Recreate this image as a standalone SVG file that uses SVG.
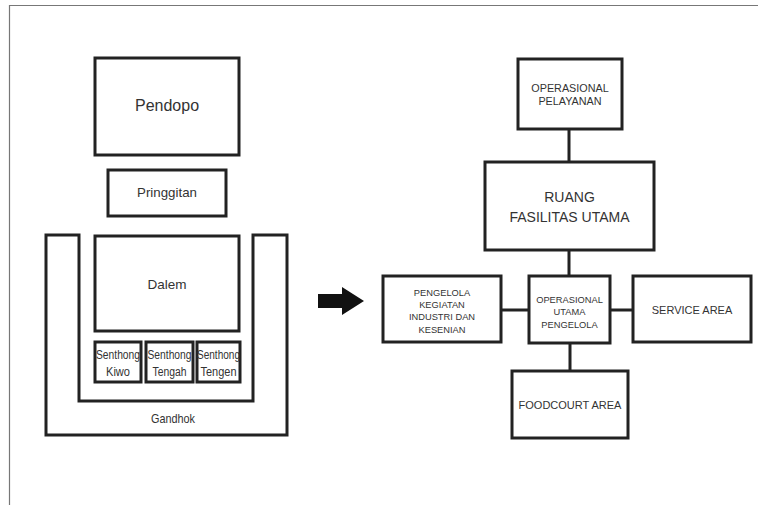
<svg xmlns="http://www.w3.org/2000/svg" width="758" height="506" viewBox="0 0 758 506">
<style>
.b{fill:#fff;stroke:#222;stroke-width:3}
.c{fill:none;stroke:#222;stroke-width:3}
text{font-family:"Liberation Sans",Arial,sans-serif;fill:#333;text-anchor:middle}
.s{font-size:12.5px}
.r{font-size:9.3px}
</style>
<rect width="758" height="506" fill="#fff"/>
<path d="M9.5 505V5.5H758" fill="none" stroke="#777" stroke-width="1.2"/>
<g id="pendopo"><rect class="b" x="95" y="58" width="144" height="97"/><text x="167" y="111" font-size="16">Pendopo</text></g>
<g id="pringgitan"><rect class="b" x="108" y="170" width="118" height="46"/><text x="167" y="197" font-size="13.3">Pringgitan</text></g>
<g id="gandhok"><path class="b" d="M46 235V435H287V235H253V401H79V235Z"/><text x="173" y="423" font-size="13" textLength="44" lengthAdjust="spacingAndGlyphs">Gandhok</text></g>
<g id="dalem"><rect class="b" x="95" y="236" width="144" height="95"/><text x="167" y="289" font-size="13.5">Dalem</text></g>
<g id="senthong-kiwo"><rect class="b" x="95" y="342" width="46" height="40"/><text class="s" x="118" y="359" textLength="44" lengthAdjust="spacingAndGlyphs">Senthong</text><text class="s" x="118" y="376" textLength="24" lengthAdjust="spacingAndGlyphs">Kiwo</text></g>
<g id="senthong-tengah"><rect class="b" x="146" y="342" width="47" height="40"/><text class="s" x="169.5" y="359" textLength="44" lengthAdjust="spacingAndGlyphs">Senthong</text><text class="s" x="169.5" y="376" textLength="34" lengthAdjust="spacingAndGlyphs">Tengah</text></g>
<g id="senthong-tengen"><rect class="b" x="197" y="342" width="43" height="40"/><text class="s" x="218.5" y="359" textLength="43" lengthAdjust="spacingAndGlyphs">Senthong</text><text class="s" x="218.5" y="376" textLength="36" lengthAdjust="spacingAndGlyphs">Tengen</text></g>
<g id="arrow"><path d="M318 294H342V287L364 301L342 315V308H318Z" fill="#111"/></g>
<g id="connectors">
<path class="c" d="M569 129V162M569 250V276M570 343V371M501 310H529M610 310H633"/>
</g>
<g id="operasional-pelayanan"><rect class="b" x="518" y="59" width="104" height="70"/><text x="570" y="92" font-size="10.8">OPERASIONAL</text><text x="570" y="105" font-size="10.8">PELAYANAN</text></g>
<g id="ruang-fasilitas"><rect class="b" x="485" y="162" width="169" height="88"/><text x="569.5" y="202" font-size="14">RUANG</text><text x="569.5" y="222" font-size="14">FASILITAS UTAMA</text></g>
<g id="pengelola-kegiatan"><rect class="b" x="383" y="276" width="118" height="66"/><text class="r" x="442" y="296">PENGELOLA</text><text class="r" x="442" y="308">KEGIATAN</text><text class="r" x="442" y="320">INDUSTRI DAN</text><text class="r" x="442" y="333">KESENIAN</text></g>
<g id="operasional-utama"><rect class="b" x="529" y="276" width="81" height="67"/><text class="r" x="569.5" y="303">OPERASIONAL</text><text class="r" x="569.5" y="315">UTAMA</text><text class="r" x="569.5" y="328">PENGELOLA</text></g>
<g id="service-area"><rect class="b" x="633" y="276" width="118" height="66"/><text x="692" y="314" font-size="11">SERVICE AREA</text></g>
<g id="foodcourt-area"><rect class="b" x="512" y="371" width="116" height="67"/><text x="570" y="409" font-size="11">FOODCOURT AREA</text></g>
</svg>
